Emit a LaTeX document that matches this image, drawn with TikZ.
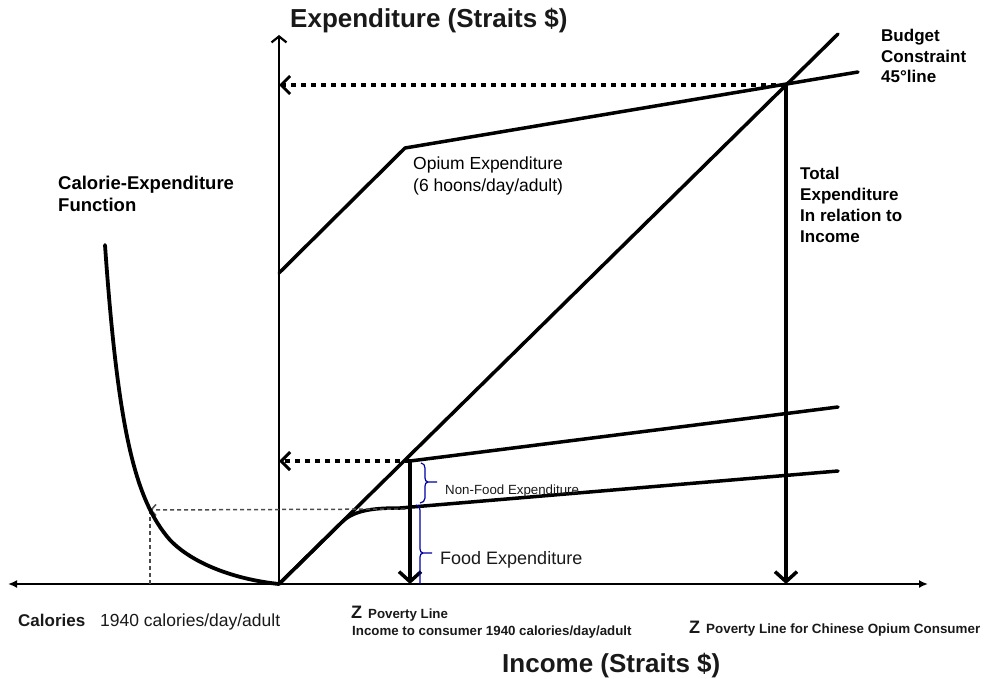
\documentclass[tikz,border=0pt]{standalone}
\usepackage{fontspec}
\setmainfont{Liberation Sans}
\usetikzlibrary{arrows.meta}
\begin{document}
\begin{tikzpicture}[x=1pt,y=-1pt,
  thickline/.style={line width=3.5pt, line cap=round, line join=round},
  axisline/.style={line width=2.8pt},
  dotarrow/.style={line width=4pt, dash pattern=on 5pt off 5pt, -{Straight Barb[length=9pt,width=18pt,line width=3pt]}},
  downarrow/.style={line width=3.5pt, -{Straight Barb[length=10pt,width=22pt]}},
  guide/.style={black!70, line width=1.5pt, dash pattern=on 4pt off 3pt},
  bracepath/.style={blue!65!black, line width=1.2pt},
  lbl/.style={inner sep=0pt, anchor=base west, text=black!90},
]
\useasboundingbox (0,0) rectangle (984,679);

% key points
\coordinate (O) at (279,584);
\coordinate (xl) at (8,584);
\coordinate (xr) at (928,584);
\coordinate (yt) at (279,35);
\coordinate (b45) at (838,34);
\coordinate (p0) at (279,273);
\coordinate (pk) at (405,148);
\coordinate (pe) at (858,72);
\coordinate (T) at (786,85);
\coordinate (Ty) at (279,85);
\coordinate (Tx) at (786,584);
\coordinate (Z) at (410,461);
\coordinate (Zy) at (279,461);
\coordinate (Zx) at (410,584);
\coordinate (ne) at (838,407);
\coordinate (f1) at (342,522);
\coordinate (f2) at (400,508);
\coordinate (fe) at (838,471);
\coordinate (C) at (150,510);
\coordinate (Cx) at (150,584);
\coordinate (fd) at (405,509);
\coordinate (c0) at (105,245);
\coordinate (c1) at (170,540);

% axes
\draw[axisline, {Latex[length=9pt,width=8pt]}-{Latex[length=9pt,width=8pt]}] (xl) -- (xr);
\draw[line width=2.2pt, -{Straight Barb[length=6pt,width=15pt]}] (O) -- (yt);

% budget constraint (45 degree line)
\draw[thickline] (O) -- (b45);
% opium consumer expenditure
\draw[thickline] (p0) -- (pk) -- (pe);
\draw[dotarrow] (T) -- (Ty);
\draw[downarrow] (T) -- (Tx);

% non-food and food expenditure
\draw[thickline] (Z) -- (ne);
\draw[thickline] (O) -- (f1) .. controls (355,509) and (378,508) .. (f2) -- (fe);
\draw[dotarrow] (Z) -- (Zy);
\draw[downarrow] (Z) -- (Zx);

% guide lines to calorie function
\draw[guide, -{Straight Barb[length=5pt,width=11pt]}] (fd) -- (C);
\draw[guide] (C) -- (Cx);

% calorie-expenditure function
\draw[thickline, line width=3.8pt] (c0) .. controls (118,430) and (135,500) .. (c1) .. controls (195,566) and (240,580) .. (O);

% braces
\draw[bracepath] (421,463) to[out=0,in=90] (425,468) -- (425,478) to[out=-90,in=180] (428,482) -- (437,482);
\draw[bracepath] (428,482) to[out=180,in=90] (425,486) -- (425,498) to[out=-90,in=0] (420,503);
\draw[bracepath] (416,505) to[out=0,in=90] (420,510) -- (420,549) to[out=-90,in=180] (423,553) -- (432,553);
\draw[bracepath] (423,553) to[out=180,in=90] (420,557) -- (420,584);

% labels
\node[lbl, font=\bfseries\fontsize{26}{30}\selectfont] (ylab) at (290,28) {Expenditure (Straits \$)};
\node[lbl, font=\bfseries\fontsize{26}{30}\selectfont] (xlab) at (502,672) {Income (Straits \$)};
\node[inner sep=0pt, anchor=north west, align=left, font=\bfseries\fontsize{17}{20.5}\selectfont] (budget) at (881,29) {Budget\\Constraint\\45°line};
\node[inner sep=0pt, anchor=north west, align=left, font=\bfseries\fontsize{17}{21}\selectfont] (total) at (800,167) {Total\\Expenditure\\In relation to\\Income};
\node[inner sep=0pt, anchor=north west, align=left, font=\fontsize{17.5}{21.5}\selectfont] (opium) at (413,157) {Opium Expenditure\\(6 hoons/day/adult)};
\node[inner sep=0pt, anchor=north west, align=left, font=\bfseries\fontsize{18.5}{22}\selectfont] (calfun) at (58,176) {Calorie-Expenditure\\Function};
\node[lbl, font=\fontsize{13.3}{16}\selectfont] (nonfood) at (445,494) {Non-Food Expenditure};
\node[lbl, font=\fontsize{18}{21}\selectfont] (food) at (440,564) {Food Expenditure};
\node[lbl, font=\bfseries\fontsize{17}{20}\selectfont] (cal) at (18,626) {Calories};
\node[lbl, font=\fontsize{17.5}{20}\selectfont] (cal1940) at (100,626) {1940 calories/day/adult};
\node[lbl, font=\bfseries\fontsize{18}{20}\selectfont] (z1) at (351,618) {Z};
\node[lbl, font=\bfseries\fontsize{13.3}{16}\selectfont] (pov1) at (368,618) {Poverty Line};
\node[lbl, font=\bfseries\fontsize{13.3}{16}\selectfont] (inc1) at (352,635) {Income to consumer 1940 calories/day/adult};
\node[lbl, font=\bfseries\fontsize{18}{20}\selectfont] (z2) at (689,633) {Z};
\node[lbl, font=\bfseries\fontsize{13.4}{16}\selectfont] (pov2) at (706,633) {Poverty Line for Chinese Opium Consumer};
\end{tikzpicture}
\end{document}
